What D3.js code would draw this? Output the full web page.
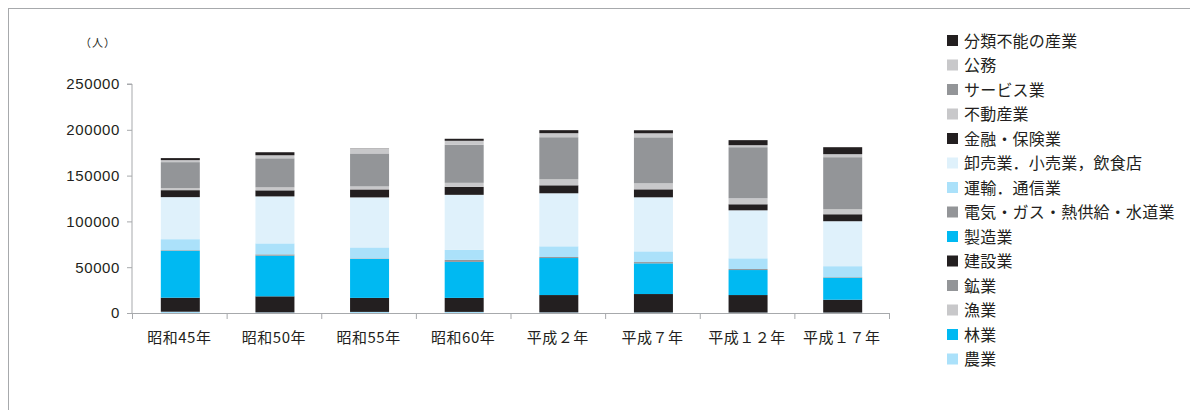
<!DOCTYPE html>
<html>
<head>
<meta charset="utf-8">
<script src="https://cdn.jsdelivr.net/npm/d3@7"></script>
<style>
  html, body { margin: 0; padding: 0; background: #fff; }
  svg { display: block; font-family: "Noto Sans CJK JP", "Noto Sans", sans-serif; }
</style>
</head>
<body>
<svg id="chart" width="1190" height="410"></svg>
<script>
// 産業別就業者数（人）
const years = ["昭和45年", "昭和50年", "昭和55年", "昭和60年", "平成２年", "平成７年", "平成１２年", "平成１７年"];

const agriculture   = [1200,   500,  1000,  1000,   500,   400,   300,   300];  // 農業
const forestry      = [  50,    50,    50,    50,    50,    50,    50,    50];  // 林業
const fishery       = [ 100,   100,   100,   100,   100,   100,   100,   100];  // 漁業
const mining        = [  50,    50,    50,    50,    50,    50,    50,    50];  // 鉱業
const construction  = [15300, 17500, 15300, 15300, 18900, 20100, 19100, 14000]; // 建設業
const manufacturing = [51300, 44400, 42600, 39300, 40400, 33500, 27300, 24000]; // 製造業
const utilities     = [ 600,  1400,   500,  2200,  1100,  1400,  1100,   600];  // 電気・ガス・熱供給・水道業
const transport     = [12000, 12000, 12000, 10900, 11700, 11700, 11700, 12000]; // 運輸．通信業
const trade         = [45900, 51300, 54600, 60100, 57900, 59000, 52400, 49100]; // 卸売業．小売業，飲食店
const finance       = [7600,  6600,  8700,  8700,  8700,  8700,  6600,  7600];  // 金融・保険業
const realEstate    = [2200,  3300,  3300,  4400,  6600,  6600,  6600,  5500];  // 不動産業
const services      = [28400, 31700, 36000, 41500, 45900, 50200, 55700, 56800]; // サービス業
const government    = [2200,  3300,  5500,  4400,  4400,  4400,  2200,  3300];  // 公務
const unclassified  = [2200,  3300,   200,  2200,  3300,  3300,  5500,  7600];  // 分類不能の産業

const yTicks = [0, 50000, 100000, 150000, 200000, 250000];

// stacking order, bottom to top
const series = [
  { name: "農業", values: agriculture, color: "#abe1fa" },
  { name: "林業", values: forestry, color: "#00b9f2" },
  { name: "漁業", values: fishery, color: "#c8c8ca" },
  { name: "鉱業", values: mining, color: "#939598" },
  { name: "建設業", values: construction, color: "#231f20" },
  { name: "製造業", values: manufacturing, color: "#00b9f2" },
  { name: "電気・ガス・熱供給・水道業", values: utilities, color: "#939598" },
  { name: "運輸．通信業", values: transport, color: "#abe1fa" },
  { name: "卸売業．小売業，飲食店", values: trade, color: "#dff1fb" },
  { name: "金融・保険業", values: finance, color: "#231f20" },
  { name: "不動産業", values: realEstate, color: "#c8c8ca" },
  { name: "サービス業", values: services, color: "#939598" },
  { name: "公務", values: government, color: "#c8c8ca" },
  { name: "分類不能の産業", values: unclassified, color: "#231f20" }
];

const rows = years.map((y, i) => {
  const r = { year: y };
  series.forEach(s => { r[s.name] = s.values[i]; });
  return r;
});

const svg = d3.select("#chart");
const textColor = "#231f20";
const axisColor = "#a7a9ac";

// outer frame
svg.append("rect")
  .attr("x", 8.5).attr("y", 8.5)
  .attr("width", 1300).attr("height", 500)
  .attr("fill", "none").attr("stroke", "#a7a9ac").attr("stroke-width", 1);

const plot = { left: 132, right: 889, top: 84, bottom: 313 };

const x = d3.scaleBand().domain(years).range([plot.left, plot.right]).padding(0);
const y = d3.scaleLinear().domain([0, 250000]).range([plot.bottom, plot.top]);
const barW = 39;

const stack = d3.stack().keys(series.map(s => s.name));
const stacked = stack(rows);

const g = svg.append("g");
g.selectAll("g.layer")
  .data(stacked)
  .join("g")
  .attr("class", "layer")
  .attr("fill", (d, i) => series[i].color)
  .selectAll("rect")
  .data(d => d)
  .join("rect")
  .attr("x", d => x(d.data.year) + (x.bandwidth() - barW) / 2 + 1)
  .attr("y", d => y(d[1]))
  .attr("width", barW)
  .attr("height", d => Math.max(0, y(d[0]) - y(d[1])));

// y axis
const yAxis = d3.axisLeft(y).tickValues(yTicks).tickFormat(d3.format("d")).tickSize(5).tickPadding(7);
const yg = svg.append("g").attr("transform", `translate(${plot.left},0)`).call(yAxis);
yg.select(".domain").attr("stroke", axisColor).attr("d", `M-5,${plot.top}H0V${plot.bottom}`);
yg.selectAll(".tick line").attr("stroke", axisColor);
yg.selectAll(".tick text").attr("fill", textColor).style("font-size", "15px")
  .style("font-family", "'Liberation Sans', Arial, sans-serif").style("letter-spacing", "0.6px");

// x axis with ticks on category boundaries
const xg = svg.append("g").attr("transform", `translate(0,${plot.bottom})`);
xg.append("line").attr("x1", plot.left).attr("x2", plot.right).attr("y1", 0.5).attr("y2", 0.5)
  .attr("stroke", axisColor);
const bounds = years.map(c => x(c)).concat([plot.right]);
xg.selectAll("line.tick").data(bounds).join("line").attr("class", "tick")
  .attr("x1", d => d + 0.5).attr("x2", d => d + 0.5).attr("y1", 0).attr("y2", 6)
  .attr("stroke", axisColor);
xg.selectAll("text").data(years).join("text")
  .attr("x", d => x(d) + x.bandwidth() / 2)
  .attr("y", 30)
  .attr("text-anchor", "middle")
  .attr("fill", textColor)
  .style("font-size", "15px")
  .style("letter-spacing", "0.5px")
  .text(d => d);

// unit label
svg.append("text").attr("x", 80).attr("y", 47).attr("fill", textColor)
  .style("font-size", "11px").style("letter-spacing", "1px").text("（人）");

// legend, top of stack first
const legendItems = series.slice().reverse();
const lg = svg.append("g").attr("transform", "translate(947,41)");
const item = lg.selectAll("g").data(legendItems).join("g")
  .attr("transform", (d, i) => `translate(0,${i * 24.5})`);
item.append("rect").attr("x", 0).attr("y", -6).attr("width", 11).attr("height", 11)
  .attr("fill", d => d.color);
item.append("text").attr("x", 17).attr("y", 0).attr("dy", "0.36em")
  .attr("fill", textColor).style("font-size", "16px").style("letter-spacing", "0.2px")
  .text(d => d.name);
</script>
</body>
</html>
